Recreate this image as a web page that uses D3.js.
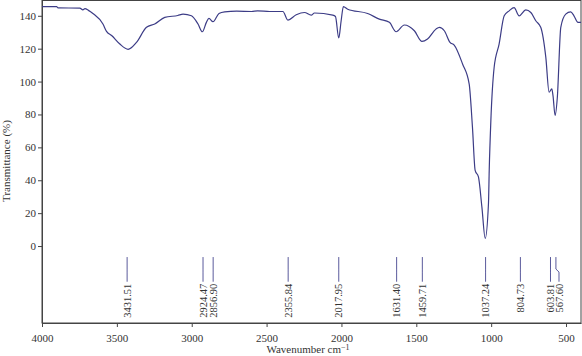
<!DOCTYPE html>
<html>
<head>
<meta charset="utf-8">
<script src="https://cdn.jsdelivr.net/npm/d3@7"></script>
<style>
  body { margin: 0; background: #fff; }
  svg { display: block; font-family: "Liberation Serif", "DejaVu Serif", serif; }
</style>
</head>
<body>
<div id="chart"></div>
<script>
// FTIR spectrum

// data
var wavenumber = [4000, 3902, 3893, 3747, 3727, 3713, 3690, 3660, 3593, 3569, 3535, 3480, 3425, 3369,
  3302, 3247, 3180, 3093, 3058, 3002, 2958, 2929, 2902, 2885, 2858, 2818, 2780, 2700, 2600, 2560,
  2480, 2391, 2358, 2302, 2247, 2202, 2180, 2058, 2040, 2018, 2002, 1987, 1958, 1825, 1747, 1680,
  1635, 1580, 1513, 1462, 1425, 1369, 1345, 1313, 1275, 1247, 1191, 1147, 1125, 1107, 1085, 1062,
  1040, 1018, 1013, 1002, 980, 947, 913, 880, 847, 813, 769, 735, 702, 669, 635, 613, 595, 587,
  573, 558, 535, 502, 469, 447, 420, 400];
var transmittance = [145.6, 145.6, 144.8, 144.7, 143.6, 144.3, 143.3, 141.4, 135, 130.5, 128, 122.8, 119.6, 123.8,
  133, 135, 139, 140.2, 141, 140, 135, 130.3, 136, 138.4, 136.4, 141.4, 142.4, 142.8, 142.6, 143,
  142.6, 142.6, 137.4, 140.6, 142, 140.4, 141.7, 140.4, 139.6, 126.5, 137, 145.6, 144, 141.4, 138, 136,
  130.3, 134.4, 130.9, 124.4, 125.9, 131.9, 133, 130.9, 123.8, 122.2, 110.7, 98.6, 72.3, 46, 42, 23.8,
  4.7, 25.9, 46, 76.4, 108.7, 122.8, 140, 143, 145, 140, 143.6, 142, 137, 133, 114.7, 93.5, 95.6, 91.5,
  79.4, 90.5, 133, 141, 142.4, 140, 136, 136];

var peaks = [3431.51, 2924.47, 2856.90, 2355.84, 2017.95, 1631.40, 1459.71, 1037.24, 804.73, 603.81, 567.60];

var xTicks = [4000, 3500, 3000, 2500, 2000, 1500, 1000, 500];
var yTicks = [0, 20, 40, 60, 80, 100, 120, 140];

var data = wavenumber.map((w, i) => ({ w: w, t: transmittance[i] }));

var svgWidth = 582, svgHeight = 356;
var plotLeft = 42, plotRight = 581, plotTop = 0.5, plotBottom = 323;

var svg = d3.select('#chart').append('svg')
    .attr('width', svgWidth)
    .attr('height', svgHeight);

var xScale = d3.scaleLinear()
    .domain([4000, 400])
    .range([plotLeft, plotRight]);

var yScale = d3.scaleLinear()
    .domain([-46.8, 149.3])
    .range([plotBottom, plotTop]);

// frame
svg.append('rect')
    .attr('x', plotLeft).attr('y', plotTop)
    .attr('width', plotRight - plotLeft).attr('height', plotBottom - plotTop)
    .attr('fill', 'none')
    .attr('stroke', '#444')
    .attr('stroke-width', 1);

// axes
var xAxis = d3.axisBottom(xScale)
    .tickValues(xTicks)
    .tickSize(4)
    .tickSizeOuter(0)
    .tickFormat(d3.format('d'));

var yAxis = d3.axisLeft(yScale)
    .tickValues(yTicks)
    .tickSize(4)
    .tickSizeOuter(0);

var gx = svg.append('g')
    .attr('transform', 'translate(0,' + plotBottom + ')')
    .call(xAxis);

var gy = svg.append('g')
    .attr('transform', 'translate(' + plotLeft + ',0)')
    .call(yAxis);

[gx, gy].forEach(function(g) {
    g.select('.domain').attr('stroke', '#444');
    g.selectAll('.tick line').attr('stroke', '#444');
    g.selectAll('.tick text')
        .attr('fill', '#333')
        .style('font-size', '11px')
        .style('font-family', '"Liberation Serif", serif');
});
gx.selectAll('.tick text').attr('dy', '1.05em');
gy.selectAll('.tick text').attr('x', -6);

// spectrum
var line = d3.line()
    .x(d => xScale(d.w))
    .y(d => yScale(d.t))
    .curve(d3.curveMonotoneX);

svg.append('path')
    .datum(data)
    .attr('fill', 'none')
    .attr('stroke', '#3c3c86')
    .attr('stroke-width', 1.2)
    .attr('d', line);

// peak markers, nudging labels that would collide
var peakPos = [];
peaks.forEach(function(p, i) {
    var x = xScale(p);
    var lx = x;
    if (i > 0 && lx - peakPos[i - 1].lx < 8.5) lx = peakPos[i - 1].lx + 8.5;
    peakPos.push({ p: p, x: x, lx: lx });
});

var y0 = yScale(-6.7), yk = yScale(-14), y1 = yScale(-21.7);

svg.selectAll('.peak-line')
    .data(peakPos)
    .enter().append('path')
        .attr('class', 'peak-line')
        .attr('fill', 'none')
        .attr('stroke', '#5a5a9c')
        .attr('stroke-width', 1)
        .attr('d', d => 'M' + d.x + ',' + y0 + 'L' + d.x + ',' + yk + 'L' + d.lx + ',' + (yk + 3) + 'L' + d.lx + ',' + y1);

svg.selectAll('.peak-label')
    .data(peakPos)
    .enter().append('text')
        .attr('class', 'peak-label')
        .attr('transform', d => 'translate(' + d.lx + ',' + (y1 + 2) + ') rotate(-90)')
        .attr('text-anchor', 'end')
        .attr('dy', '0.35em')
        .attr('fill', '#333')
        .style('font-size', '10.5px')
        .text(d => d.p.toFixed(2));

// axis titles
var xt = svg.append('text')
    .attr('x', 308)
    .attr('y', 353)
    .attr('text-anchor', 'middle')
    .attr('fill', '#333')
    .style('font-size', '11px')
    .text('Wavenumber cm');
xt.append('tspan')
    .attr('dy', '-0.4em')
    .style('font-size', '8px')
    .text('\u22121');

svg.append('text')
    .attr('transform', 'translate(10,161) rotate(-90)')
    .attr('text-anchor', 'middle')
    .attr('fill', '#333')
    .style('font-size', '11px')
    .text('Transmittance (%)');
</script>
</body>
</html>
